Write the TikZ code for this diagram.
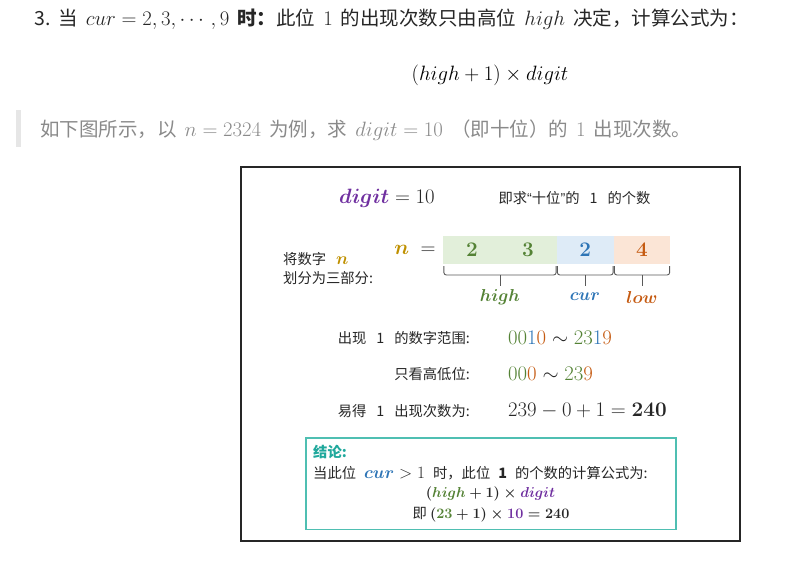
\documentclass[tikz,border=0pt]{standalone}
\usepackage[no-math]{fontspec}
\setmainfont{Noto Sans CJK SC}
\newfontfamily\latq{Liberation Sans}
\usepackage{amsmath,amssymb,bm}
\usepackage{tikz}
\usetikzlibrary{positioning}
\usetikzlibrary{calc}
\usepackage{xcolor}

\definecolor{ink}{HTML}{262626}
\definecolor{quotegray}{HTML}{8A8A8A}
\definecolor{quotebar}{HTML}{E6E6E6}
\definecolor{hicolor}{HTML}{548235}
\definecolor{curcolor}{HTML}{2E75B6}
\definecolor{lowcolor}{HTML}{C55A11}
\definecolor{digpurple}{HTML}{7030A0}
\definecolor{ngold}{HTML}{BF9000}
\definecolor{hifill}{HTML}{E2EFDA}
\definecolor{curfill}{HTML}{DEEBF7}
\definecolor{lowfill}{HTML}{FBE5D6}
\definecolor{tealline}{HTML}{4FBFB2}
\definecolor{tealtext}{HTML}{1FA89C}
\definecolor{bracegray}{HTML}{595959}

\newcommand{\km}[1]{{\fontsize{19.5}{20}\selectfont$#1$}}
\newcommand{\mm}[1]{{\fontsize{17.5}{18}\selectfont$#1$}}
\newcommand{\gap}{\hspace{10pt}}
\newcommand{\cgap}{\hspace{8pt}}
\newcommand{\wsp}{\hspace{8pt}}

\begin{document}
\begin{tikzpicture}[x=1pt, y=-1pt,
    top/.style={inner sep=0pt, anchor=west, font=\fontsize{19.5}{22}\selectfont},
    txt/.style={inner sep=0pt, text=ink, font=\fontsize{14.3}{17}\selectfont},
    big/.style={inner sep=0pt, text=ink, font=\fontsize{20}{22}\selectfont},
    cell/.style={minimum height=28, inner sep=0pt, outer sep=0pt},
    brace/.style={draw=bracegray, line width=0.9pt, rounded corners=2.5},
    ]
    \useasboundingbox (0,0) rectangle (789,560);

    % text above the figure
    \node[top, text=ink] (line1) at (34,19) {3.\wsp{}当\wsp{}\km{cur=2,3,\cdots,9}\wsp{}\textbf{时：}此位\wsp{}\km{1}\wsp{}的出现次数只由高位\wsp{}\km{high}\wsp{}决定，计算公式为：};
    \node[inner sep=0pt] (formula) at (490,75) {\km{(high+1)\times digit}};

    \fill[quotebar] (16,110) rectangle (21,147);
    \node[top, text=quotegray] (quote) at (40,130) {如下图所示，以\wsp{}\km{n=2324}\wsp{}为例，求\wsp{}\km{digit=10}\wsp{}（即十位）的\wsp{}\km{1}\wsp{}出现次数。};

    % the figure
    \draw[line width=1.6pt, draw=black!85] (241,167) rectangle (740,541);

    \node[big] (digit) at (387,198) {$\textcolor{digpurple}{\bm{digit}}=10$};
    \node[txt] (ask) at (574.5,198) {即求{\latq“}十位{\latq”}的\gap{}1\gap{}的个数};

    \node[txt, anchor=west, align=left, font=\fontsize{14.3}{19}\selectfont] (split) at (283,268.5) {将数字\gap{}{\fontsize{16}{16}\selectfont$\textcolor{ngold}{\bm{n}}$}\\划分为三部分:};
    \node[big] (neq) at (415,250) {$\textcolor{ngold}{\bm{n}}\;=$};

    % n split into high / cur / low
    \node[cell, fill=hifill, minimum width=113.5] (hi) at (500,250) {};
    \node[cell, fill=curfill, minimum width=57, right=0pt of hi] (cu) {};
    \node[cell, fill=lowfill, minimum width=56.5, right=0pt of cu] (lo) {};

    \node[big, text=hicolor] (d1) at (472,250) {$\mathbf{2}$};
    \node[big, text=hicolor] (d2) at (528,250) {$\mathbf{3}$};
    \node[big, text=curcolor] (d3) at (cu) {$\mathbf{2}$};
    \node[big, text=lowcolor] (d4) at (lo) {$\mathbf{4}$};

    \foreach \p in {hi,cu,lo}{
        \draw[brace] ([xshift=0.6pt,yshift=-2pt]\p.south west) |- ([yshift=-11pt]\p.south)
            -| ([xshift=-0.6pt,yshift=-2pt]\p.south east);
        \draw[brace] ([yshift=-11pt]\p.south) -- ([yshift=-22pt]\p.south);
    }

    \node[big, font=\fontsize{18}{20}\selectfont, text=hicolor] (hilbl) at (500,297) {$\bm{high}$};
    \node[big, font=\fontsize{18}{20}\selectfont, text=curcolor] (culbl) at (585,297) {$\bm{cur}$};
    \node[big, font=\fontsize{18}{20}\selectfont, text=lowcolor] (lolbl) at (642,297) {$\bm{low}$};

    % counting
    \node[txt, anchor=east] (rng) at (470,338) {出现\gap{}1\gap{}的数字范围:};
    \node[big, anchor=west] (rngval) at (508,338) {$\textcolor{hicolor}{00}\textcolor{curcolor}{1}\textcolor{lowcolor}{0}\sim\textcolor{hicolor}{23}\textcolor{curcolor}{1}\textcolor{lowcolor}{9}$};
    \node[txt, anchor=east] (hl) at (470,374) {只看高低位:};
    \node[big, anchor=west] (hlval) at (508,374) {$\textcolor{hicolor}{00}\textcolor{lowcolor}{0}\sim\textcolor{hicolor}{23}\textcolor{lowcolor}{9}$};
    \node[txt, anchor=east] (cnt) at (470,411) {易得\gap{}1\gap{}出现次数为:};
    \node[big, anchor=west] (cntval) at (508,411) {$239-0+1=\mathbf{240}$};

    % conclusion
    \node[draw=tealline, line width=1.5pt, minimum width=370, minimum height=91.5, inner sep=0pt] (concl) at (490.75,483.5) {};
    \node[txt, anchor=west, text=tealtext, font=\bfseries\fontsize{14.3}{17}\selectfont] (ctitle) at (313,452) {结论:};
    \node[txt, anchor=west] (cline) at (313,473) {当此位\cgap{}\mm{\textcolor{curcolor}{\bm{cur}}>1}\cgap{}时，此位\cgap{}\textbf{1}\cgap{}的个数的计算公式为:};
    \node[txt] (cf1) at (490.5,494) {{\fontsize{15}{18}\selectfont\boldmath$(\textcolor{hicolor}{high}+1)\times\textcolor{digpurple}{digit}$}};
    \node[txt] (cf2) at (491,515) {即 {\fontsize{15}{18}\selectfont\boldmath$(\textcolor{hicolor}{23}+1)\times\textcolor{digpurple}{10}=240$}};
\end{tikzpicture}
\end{document}
